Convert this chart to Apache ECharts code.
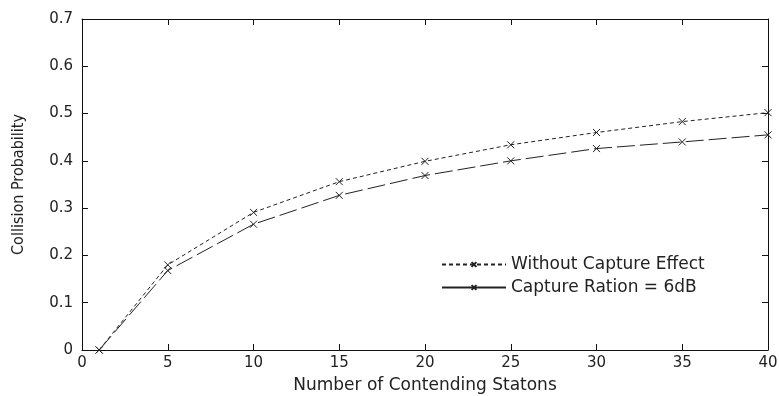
<!DOCTYPE html>
<html><head><meta charset="utf-8">
<script src="https://cdn.jsdelivr.net/npm/echarts@6/dist/echarts.min.js"></script>
<style>html,body{margin:0;padding:0;background:#fff}#c{width:779px;height:396px}</style>
</head><body><div id="c"></div>
<script>
const stations = [1, 5, 10, 15, 20, 25, 30, 35, 40];
const withoutCapture = [0, 0.180, 0.291, 0.356, 0.399, 0.434, 0.460, 0.483, 0.502];
const captureRatio6dB = [0, 0.168, 0.266, 0.327, 0.369, 0.400, 0.426, 0.440, 0.455];
const seriesNames = ['Without Capture Effect', 'Capture Ration = 6dB'];
const xTitle = 'Number of Contending Statons';
const yTitle = 'Collision Probability';

const xSym = 'path://M0,0L10,10M10,0L0,10';
const pair = (ys) => stations.map((x, i) => [x, ys[i]]);
const font = 'DejaVu Sans, Liberation Sans, sans-serif';
const axisCommon = () => ({
  axisLine: {onZero: false, lineStyle: {color: '#111', width: 1}},
  axisTick: {inside: true, length: 6, lineStyle: {color: '#111'}},
  splitLine: {show: false}
});
const chart = echarts.init(document.getElementById('c'));
chart.setOption({
  animation: false,
  backgroundColor: '#fff',
  grid: {left: 82, right: 11, top: 19, bottom: 46, containLabel: false, outerBoundsMode: 'none'},
  xAxis: [
    Object.assign({type: 'value', min: 0, max: 40, interval: 5, position: 'bottom',
      name: xTitle, nameLocation: 'middle', nameGap: 27,
      nameTextStyle: {fontFamily: font, fontSize: 17, color: '#222'},
      axisLabel: {fontFamily: font, fontSize: 15, color: '#222', margin: 6}}, axisCommon()),
    Object.assign({type: 'value', min: 0, max: 40, interval: 5, position: 'top',
      axisLabel: {show: false}}, axisCommon())
  ],
  yAxis: [
    Object.assign({type: 'value', min: 0, max: 0.7, interval: 0.1, position: 'left',
      name: yTitle, nameLocation: 'middle', nameGap: 55,
      nameTextStyle: {fontFamily: 'DejaVu Sans Condensed, Liberation Sans Narrow, sans-serif', fontSize: 16, color: '#222'},
      axisLabel: {fontFamily: font, fontSize: 15, color: '#222', margin: 9,
        formatter: v => v === 0 ? '0' : v.toFixed(1)}}, axisCommon()),
    Object.assign({type: 'value', min: 0, max: 0.7, interval: 0.1, position: 'right',
      axisLabel: {show: false}}, axisCommon())
  ],
  legend: {
    orient: 'vertical', left: 436, top: 251,
    itemWidth: 64, itemHeight: 6, itemGap: 6,
    textStyle: {fontFamily: font, fontSize: 17, color: '#222'},
    data: [
      {name: seriesNames[0]},
      {name: seriesNames[1], lineStyle: {type: 'solid'}}
    ]
  },
  series: [
    {name: seriesNames[0], type: 'line', data: pair(withoutCapture),
      symbol: xSym, symbolSize: 7,
      lineStyle: {color: '#222', width: 1, type: [4, 3]},
      itemStyle: {color: 'rgba(0,0,0,0)', borderColor: '#222', borderWidth: 1}},
    {name: seriesNames[1], type: 'line', data: pair(captureRatio6dB),
      symbol: xSym, symbolSize: 7,
      lineStyle: {color: '#222', width: 1, type: [18, 5]},
      itemStyle: {color: 'rgba(0,0,0,0)', borderColor: '#222', borderWidth: 1}}
  ]
});
</script></body></html>
